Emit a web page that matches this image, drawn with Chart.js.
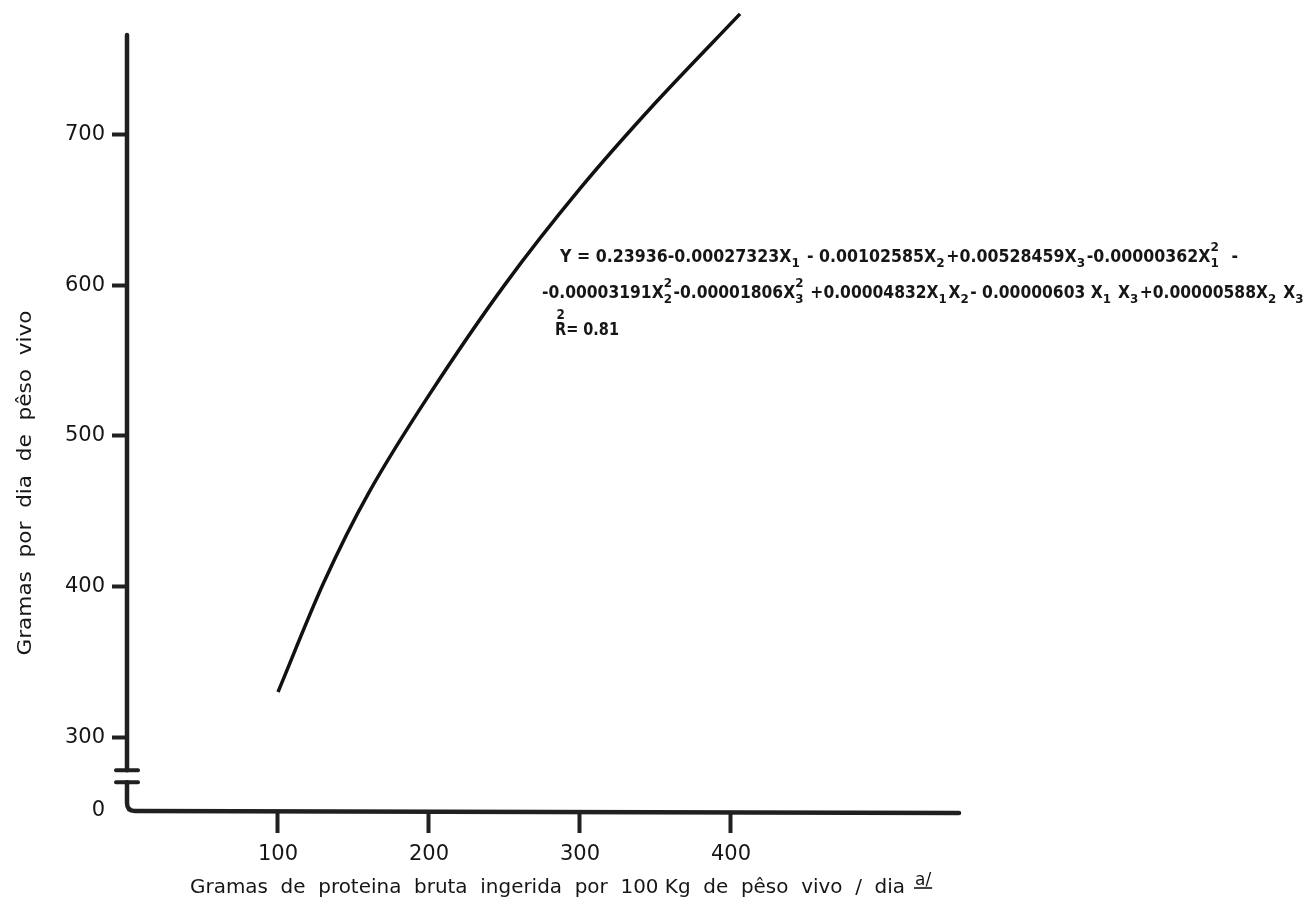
<!DOCTYPE html>
<html>
<head>
<meta charset="utf-8">
<script src="https://cdn.jsdelivr.net/npm/chart.js@4/dist/chart.umd.min.js"></script>
<style>
html,body{margin:0;padding:0;background:#fff;}
#wrap{width:1311px;height:924px;position:relative;}
</style>
</head>
<body>
<div id="wrap"><canvas id="c"></canvas></div>
<script>
// ---- data ----
const proteinIntake = [100, 130, 160, 200, 250, 300, 350, 406];   // g CP / 100 kg LW / day
const dailyGain     = [330, 402, 462, 527, 600, 664, 721, 780];   // g / day
const xTickValues = [100, 200, 300, 400];
const yTickValues = [300, 400, 500, 600, 700];
const xRange = [0, 551];
const yRange = [251, 766];          // axis broken below 300; bottom shown as "0"
const yBottomLabel = '0';
const yBreakValues = [278, 270];
const yTitle = 'Gramas  por  dia  de  pêso  vivo';
const xTitle = 'Gramas  de  proteina  bruta  ingerida  por  100 Kg  de  pêso  vivo  /  dia';
const xTitleNote = 'a/';
const eqLine1 = [
  {t:'Y = 0.23936-0.00027323X'},{sub:'1'},{t:' - 0.00102585X'},{sub:'2'},{t:'+0.00528459X'},{sub:'3'},
  {t:'-0.00000362X'},{sub:'1',sup:'2'},{t:'  -'}
];
const eqLine2 = [
  {t:'-0.00003191X'},{sub:'2',sup:'2'},{t:'-0.00001806X'},{sub:'3',sup:'2'},{t:' +0.00004832X'},{sub:'1'},
  {t:'X'},{sub:'2'},{t:'- 0.00000603 X'},{sub:'1'},{t:' X'},{sub:'3'},{t:'+0.00000588X'},{sub:'2'},{t:' X'},{sub:'3'}
];
const eqLine3 = [{t:'R', over:'2'},{t:'= 0.81'}];

const INK = '#161616';
const FONT = '"DejaVu Sans", "Noto Sans", sans-serif';

function segWidth(ctx, s, size){
  if (s.sub !== undefined || s.sup !== undefined){
    ctx.font = 'bold ' + Math.round(size*0.78) + 'px ' + FONT;
    return Math.max(s.sub ? ctx.measureText(s.sub).width : 0, s.sup ? ctx.measureText(s.sup).width : 0) + size*0.1;
  }
  ctx.font = 'bold ' + size + 'px ' + FONT;
  return ctx.measureText(s.t).width;
}
function drawRich(ctx, segs, x, y, targetW, size){
  let total = 0;
  segs.forEach(s => total += segWidth(ctx, s, size));
  const sx = targetW / total;
  ctx.save();
  ctx.translate(x, y);
  ctx.scale(sx, 1);
  ctx.fillStyle = INK;
  ctx.textBaseline = 'alphabetic';
  ctx.textAlign = 'left';
  let cx = 0;
  segs.forEach(s => {
    const w = segWidth(ctx, s, size);
    if (s.sub !== undefined || s.sup !== undefined){
      ctx.font = 'bold ' + Math.round(size*0.78) + 'px ' + FONT;
      if (s.sub) ctx.fillText(s.sub, cx, size*0.32);
      if (s.sup) ctx.fillText(s.sup, cx, -size*0.62);
    } else {
      ctx.font = 'bold ' + size + 'px ' + FONT;
      ctx.fillText(s.t, cx, 0);
      if (s.over){
        const tw = ctx.measureText(s.t).width;
        ctx.font = 'bold ' + Math.round(size*0.85) + 'px ' + FONT;
        ctx.textAlign = 'center';
        ctx.fillText(s.over, cx + tw/2, -size*0.95);
        ctx.textAlign = 'left';
      }
    }
    cx += w;
  });
  ctx.restore();
}
function drawFitted(ctx, text, x, y, targetW, size, align){
  ctx.save();
  ctx.font = size + 'px ' + FONT;
  const w = ctx.measureText(text).width;
  const sx = targetW / w;
  ctx.translate(x, y);
  ctx.scale(sx, 1);
  ctx.fillStyle = INK;
  ctx.textBaseline = 'middle';
  ctx.textAlign = align || 'left';
  ctx.fillText(text, 0, 0);
  ctx.restore();
}

const decor = {
  id: 'decor',
  beforeDatasetsDraw(chart){
    const {ctx} = chart;
    const xs = chart.scales.x, ys = chart.scales.y;
    const x0 = xs.getPixelForValue(xRange[0]);
    const x1 = xs.getPixelForValue(xRange[1]);
    const yTop = ys.getPixelForValue(yRange[1]);
    const yBot = ys.getPixelForValue(yRange[0]);
    const b1 = ys.getPixelForValue(yBreakValues[0]);
    const b2 = ys.getPixelForValue(yBreakValues[1]);
    ctx.save();
    ctx.strokeStyle = '#202020';
    ctx.lineWidth = 4.5;
    ctx.lineCap = 'round';
    ctx.lineJoin = 'round';
    ctx.beginPath(); ctx.moveTo(x0, yTop); ctx.lineTo(x0, b1); ctx.stroke();
    ctx.lineWidth = 4;
    ctx.beginPath(); ctx.moveTo(x0-11, b1); ctx.lineTo(x0+11, b1); ctx.stroke();
    ctx.beginPath(); ctx.moveTo(x0-11, b2); ctx.lineTo(x0+11, b2); ctx.stroke();
    ctx.lineWidth = 4.5;
    const r = 8;
    ctx.beginPath();
    ctx.moveTo(x0, b2);
    ctx.lineTo(x0, yBot - r);
    ctx.quadraticCurveTo(x0, yBot, x0 + r, yBot);
    ctx.lineTo(x1, yBot + 2);
    ctx.stroke();
    ctx.restore();
  },
  afterDraw(chart){
    const {ctx, chartArea} = chart;
    ctx.save();
    ctx.translate(26, chartArea.top + 448);
    ctx.rotate(-Math.PI/2);
    drawFitted(ctx, yTitle, 0, 0, 345, 20, 'center');
    ctx.restore();
    drawFitted(ctx, xTitle, chartArea.left + 63, chartArea.bottom + 77, 715, 20, 'left');
    ctx.save();
    ctx.font = '17px ' + FONT;
    ctx.fillStyle = INK;
    ctx.textBaseline = 'alphabetic';
    const nx = chartArea.left + 788, ny = chartArea.bottom + 74;
    ctx.fillText(xTitleNote, nx, ny);
    const nw = ctx.measureText(xTitleNote).width;
    ctx.strokeStyle = INK; ctx.lineWidth = 1.6;
    ctx.beginPath(); ctx.moveTo(nx - 1, ny + 3); ctx.lineTo(nx + nw + 1, ny + 3); ctx.stroke();
    ctx.restore();
    drawRich(ctx, eqLine1, 560, 262, 678, 17);
    drawRich(ctx, eqLine2, 542, 298, 763, 17);
    drawRich(ctx, eqLine3, 555, 335, 64, 17);
  }
};

new Chart(document.getElementById('c'), {
  type: 'line',
  data: {
    datasets: [{
      data: proteinIntake.map((v, i) => ({x: v, y: dailyGain[i]})),
      borderColor: '#111',
      borderWidth: 3.5,
      pointRadius: 0,
      fill: false,
      tension: 0.3,
      clip: false
    }]
  },
  options: {
    responsive: true,
    maintainAspectRatio: false,
    animation: false,
    layout: {padding: {top: 35, right: 352, left: 0, bottom: 0}},
    plugins: {legend: {display: false}, tooltip: {enabled: false}},
    scales: {
      x: {
        type: 'linear',
        min: xRange[0], max: xRange[1],
        afterBuildTicks(s){ s.ticks = xTickValues.map(v => ({value: v})); },
        afterFit(s){ s.height = 113; },
        border: {display: false},
        grid: {drawOnChartArea: false, drawTicks: true, tickLength: 22, tickWidth: 4, tickColor: '#202020'},
        ticks: {color: INK, padding: 9, font: {family: FONT, size: 21}, maxRotation: 0}
      },
      y: {
        type: 'linear',
        min: yRange[0], max: yRange[1],
        afterBuildTicks(s){ s.ticks = [yRange[0]].concat(yTickValues).map(v => ({value: v})); },
        afterFit(s){ s.width = 127; },
        border: {display: false},
        grid: {
          drawOnChartArea: false, drawTicks: true, tickLength: 15, tickWidth: 4,
          tickColor: c => (c.tick && c.tick.value === yRange[0]) ? 'rgba(0,0,0,0)' : '#202020'
        },
        ticks: {
          color: INK, padding: 7, font: {family: FONT, size: 21},
          callback: v => v === yRange[0] ? yBottomLabel : String(v)
        }
      }
    }
  },
  plugins: [decor]
});
</script>
</body>
</html>
